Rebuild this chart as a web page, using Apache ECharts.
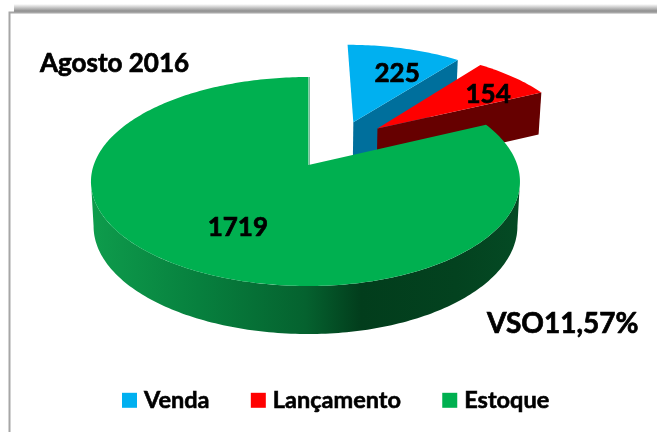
<!DOCTYPE html>
<html>
<head>
<meta charset="utf-8">
<style>html,body{margin:0;padding:0;background:#fff}#c{width:657px;height:432px}</style>
<script src="https://cdn.jsdelivr.net/npm/echarts@6/dist/echarts.min.js"></script>
</head>
<body>
<div id="c"></div>
<script>
var categories = ['Venda', 'Lançamento', 'Estoque'];
var values = [225, 154, 1719];
var titleText = 'Agosto 2016';
var noteText = 'VSO11,57%';
var topColors = ['#00B0F0', '#FF0000', '#00B050'];
var wallColors = ['#006F9C', '#660000', '#03401E'];

var FONT = 'Lato, "Open Sans", sans-serif';
var ax = 308.5, ay = 165, Al = 214.8, Ar = 208.8, B = 101.9, P = 0.158;
var offsets = [[0.23, 0.45], [0.35, 0.38], [0, 0]];
var labelAt = [[0.494, 1.04], [0.965, 0.77], [-0.30, -0.56]];

function project(u, v) {
  var d = 1 + P * v;
  return [ax + (u < 0 ? Al : Ar) * u / d, ay - B * v / d];
}
function projectLow(u, v) {
  var d = 1 + P * v, p = project(u, v);
  return [ax + (p[0] - ax) * 0.988, p[1] + 44.2 - 3.2 * (v / d)];
}
function total() { return values.reduce(function (a, b) { return a + b; }, 0); }
function angleOf(i) {
  var s = 0;
  for (var k = 0; k < i; k++) s += values[k];
  return s / total() * 360;
}
function rim(off, deg, fn) {
  var t = deg * Math.PI / 180;
  return fn(off[0] + Math.sin(t), off[1] + Math.cos(t));
}
function makeRender(i) {
  return function () {
    var off = offsets[i], a0 = angleOf(i), a1 = angleOf(i + 1), kids = [];
    var face = [project(off[0], off[1])], a;
    for (a = a0; a <= a1 + 1e-6; a += 1) face.push(rim(off, a, project));
    face.push(rim(off, a1, project));
    if (i < 2) {
      var edge = a1, apexT = project(off[0], off[1]), apexB = projectLow(off[0], off[1]);
      kids.push({ type: 'polygon', shape: { points: [apexT, rim(off, edge, project), rim(off, edge, projectLow), apexB] },
        style: { fill: wallColors[i] } });
    } else {
      var wall = [], low = [];
      for (a = 99; a <= 261; a += 1) { wall.push(rim(off, a, project)); low.unshift(rim(off, a, projectLow)); }
      kids.push({ type: 'polygon', shape: { points: wall.concat(low) },
        style: { fill: new echarts.graphic.LinearGradient(0, 0, 1, 0, [
          { offset: 0, color: '#0E9C4C' }, { offset: 0.25, color: '#07803E' },
          { offset: 0.5, color: '#05622F' }, { offset: 0.63, color: '#023D1C' },
          { offset: 0.85, color: '#03421F' }, { offset: 1, color: '#044A24' }]) } });
      var top = project(0, 1), apex = project(0, 0);
      kids.push({ type: 'line', shape: { x1: apex[0] + 1, y1: apex[1], x2: top[0] + 1, y2: top[1] },
        style: { stroke: '#7fb89c', lineWidth: 1 } });
    }
    kids.push({ type: 'polygon', shape: { points: face }, style: { fill: topColors[i] } });
    var lp = project(labelAt[i][0], labelAt[i][1]);
    kids.push({ type: 'text', style: { x: lp[0], y: lp[1], text: String(values[i]), align: 'center', verticalAlign: 'middle',
      fill: '#000', stroke: '#000', lineWidth: 0.7, font: 'bold 26px ' + FONT } });
    return { type: 'group', children: kids };
  };
}

var chart = echarts.init(document.getElementById('c'), null, { renderer: 'canvas' });
chart.setOption({
  animation: false,
  backgroundColor: '#fff',
  legend: {
    data: categories, left: 122, top: 388, padding: 0, itemWidth: 15, itemHeight: 15, itemGap: 41,
    icon: 'rect', selectedMode: false,
    textStyle: { color: '#000', fontFamily: FONT, fontWeight: 'bold', fontSize: 23.5, padding: [0, 0, 0, 2],
      textBorderColor: '#000', textBorderWidth: 0.6 }
  },
  graphic: [
    { type: 'rect', z: -2, shape: { x: 14, y: 4, width: 650, height: 8 },
      style: { fill: new echarts.graphic.LinearGradient(0, 0, 0, 1, [{ offset: 0, color: '#ffffff' }, { offset: 1, color: '#808080' }]) } },
    { type: 'rect', z: -1, shape: { x: 9.5, y: 12.5, width: 700, height: 460 },
      style: { fill: '#fff', stroke: '#a6a6a6', lineWidth: 2 } },
    { type: 'text', z: 10, style: { x: 40, y: 64, text: titleText, verticalAlign: 'middle', fill: '#000', stroke: '#000', lineWidth: 0.7, font: 'bold 26px ' + FONT } },
    { type: 'text', z: 10, style: { x: 487, y: 324, text: noteText, verticalAlign: 'middle', fill: '#000', stroke: '#000', lineWidth: 0.7, font: 'bold 28px ' + FONT } }
  ],
  series: categories.map(function (name, i) {
    return { type: 'custom', name: name, coordinateSystem: 'none', data: [values[i]], silent: true,
      itemStyle: { color: topColors[i] }, renderItem: makeRender(i) };
  })
});
</script>
</body>
</html>
